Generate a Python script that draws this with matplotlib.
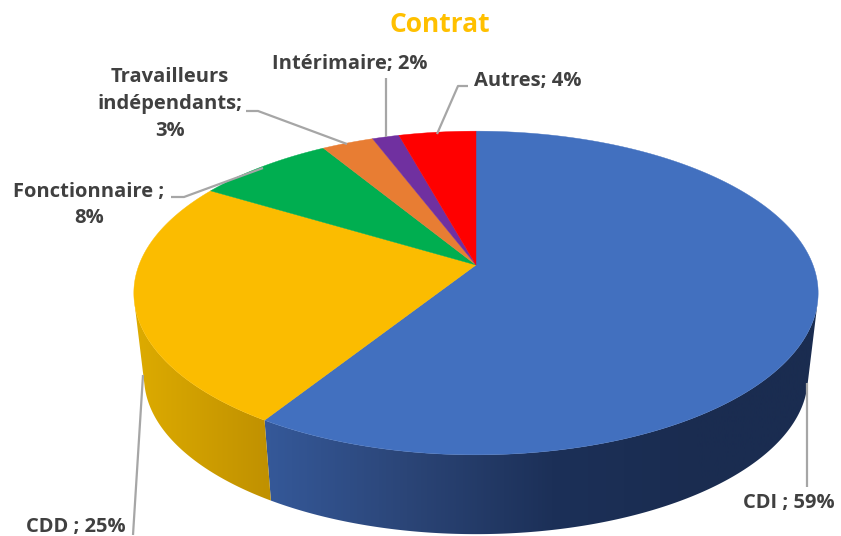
"""Contrat: 3D-looking pie, perspective done by hand since matplotlib has none for pies."""
import numpy as np
import matplotlib
matplotlib.use("Agg")
import matplotlib.pyplot as plt
from matplotlib.colors import LinearSegmentedColormap

CATEGORIES = ["CDI", "CDD", "Fonctionnaire", "Travailleurs indépendants", "Intérimaire", "Autres"]
VALUES = [59.0, 24.6, 7.7, 2.9, 1.5, 4.3]   # labels are rounded
COLORS = ["#4270BF", "#FBBC00", "#00AE50", "#E87D33", "#7030A0", "#FF0000"]
LABELS = ["CDI ; 59%", "CDD ; 25%", "Fonctionnaire ;\n8%", "Travailleurs\nindépendants;\n3%",
          "Intérimaire; 2%", "Autres; 4%"]

# label centres and leader lines, in pixels of the 841x536 picture
LABEL_POS = [(789, 503), (76, 527), (89, 205), (170, 104), (350, 64), (528, 81)]
LEADERS = [[(807, 383), (807, 487)],
           [(143, 375), (133, 535)],
           [(171, 197), (184, 197), (263, 168)],
           [(246, 111), (258, 111), (347, 144)],
           [(386, 78), (386, 137)],
           [(468, 86), (458, 86), (437, 134)]]
# wall shading along x
WALL_SHADES = {0: ["#35599A", "#2B4577", "#1C3058", "#1A2C50", "#1A2C50"],
               1: ["#DEAC00", "#BF9000"]}
WALL_SPANS = {0: (262, 841), 1: (130, 274)}

CX, TOP_Y, BOT_Y = 476, 265, 350      # pie apex on the top face / on the lower face
RX, RY, K = 337, 157, 0.173           # homography of the unit circle
BOT_SCALE = 0.97
FONT = "Open Sans"


def project(t, cy=TOP_Y, s=1.0):
    """t clockwise from 12 o'clock (radians) -> pixel x, y."""
    w = 1 + K * np.cos(t)
    return CX + s * RX * np.sin(t) / w, cy - s * RY * np.cos(t) / w


def visible_from(ts):
    """Index where the top-to-bottom edge is tangent to the rim (the wall's silhouette)."""
    x0, y0 = project(ts)
    x1, y1 = project(ts, BOT_Y, BOT_SCALE)
    cross = np.gradient(x0) * (y1 - y0) - np.gradient(y0) * (x1 - x0)
    return np.where(np.sign(cross) != np.sign(cross[len(ts) // 2]))[0]


def draw_wall(ax, start, end, shades, span):
    ts = np.linspace(start, end, 400)
    hidden = visible_from(ts)
    if len(hidden):
        ts = ts[hidden[-1] + 1:] if hidden[0] < len(ts) // 2 else ts[:hidden[0]]
    x0, y0 = project(ts)
    x1, y1 = project(ts, BOT_Y, BOT_SCALE)
    poly = ax.fill(np.r_[x0, x1[::-1]], np.r_[y0, y1[::-1]], color="none", lw=0)[0]
    cmap = LinearSegmentedColormap.from_list("wall", shades)
    im = ax.imshow(np.linspace(0, 1, 512)[None, :], cmap=cmap, aspect="auto",
                   extent=(span[0], span[1], 536, 0), zorder=1)
    im.set_clip_path(poly)


def main():
    fig = plt.figure(figsize=(8.41, 5.36), dpi=100)
    ax = fig.add_axes([0, 0, 1, 1])
    edges = np.cumsum([0] + VALUES) / sum(VALUES) * 2 * np.pi

    # walls first, the top face covers what is hidden
    for i, shades in WALL_SHADES.items():
        draw_wall(ax, edges[i], edges[i + 1], shades, WALL_SPANS[i])

    for i, col in enumerate(COLORS):
        ts = np.linspace(edges[i], edges[i + 1], 200)
        x, y = project(ts)
        ax.fill(np.r_[CX, x], np.r_[TOP_Y, y], color=col, lw=0.3, zorder=2)

    for pts in LEADERS:
        xs, ys = zip(*pts)
        ax.plot(xs, ys, color="#A6A6A6", lw=1.6, zorder=3, solid_capstyle="butt")

    for text, (x, y) in zip(LABELS, LABEL_POS):
        ax.text(x, y, text, ha="center", va="center", fontsize=14.5, fontweight="bold",
                family=FONT, color="#404040", linespacing=1.45, zorder=4)
    ax.text(440, 25, "Contrat", ha="center", va="center", fontsize=19, fontweight="bold",
            family=FONT, color="#FFC000", zorder=4)

    ax.set_xlim(0, 841)
    ax.set_ylim(536, 0)
    ax.axis("off")
    fig.savefig("out.png", dpi=100, facecolor="white")


if __name__ == "__main__":
    main()
